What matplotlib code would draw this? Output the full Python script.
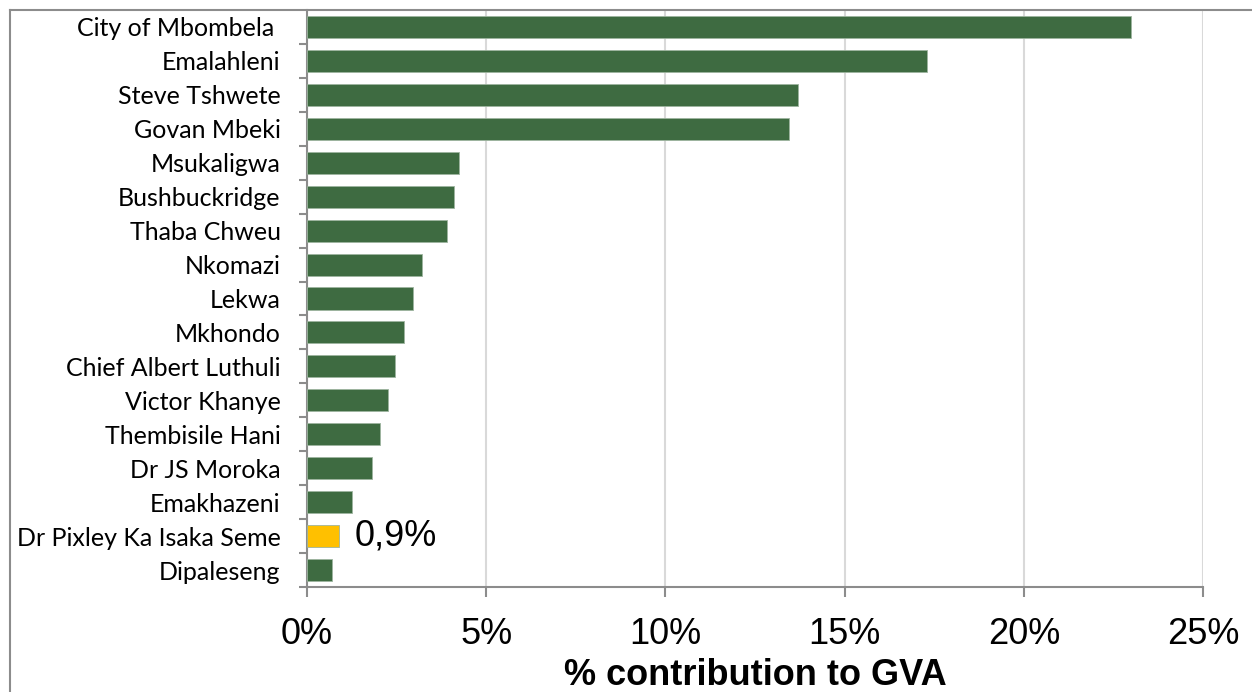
import matplotlib
matplotlib.use("Agg")
import matplotlib.pyplot as plt
from matplotlib.lines import Line2D
from matplotlib.ticker import FuncFormatter, FixedLocator

# share of provincial GVA by local municipality (%)
municipalities = [
    "City of Mbombela ", "Emalahleni", "Steve Tshwete", "Govan Mbeki",
    "Msukaligwa", "Bushbuckridge", "Thaba Chweu", "Nkomazi", "Lekwa",
    "Mkhondo", "Chief Albert Luthuli", "Victor Khanye", "Thembisile Hani",
    "Dr JS Moroka", "Emakhazeni", "Dr Pixley Ka Isaka Seme", "Dipaleseng",
]
gva_share = [
    23.0, 17.3, 13.7, 13.45, 4.25, 4.1, 3.9, 3.2, 2.95,
    2.7, 2.45, 2.25, 2.05, 1.8, 1.25, 0.9, 0.7,
]
highlight = "Dr Pixley Ka Isaka Seme"

GREEN = "#3E6B41"
YELLOW = "#FFC000"
AXIS_GREY = "#8C8C8C"
GRID_GREY = "#D9D9D9"

W, H = 1252, 692
fig = plt.figure(figsize=(W / 100, H / 100), dpi=100)
ax = fig.add_axes([307 / W, 1 - 587 / H, (1203 - 307) / W, (587 - 10) / H])

n = len(municipalities)
ypos = list(range(n))
colors = [YELLOW if m == highlight else GREEN for m in municipalities]
ax.barh(ypos, gva_share, height=0.65, color=colors,
        edgecolor="#9DB59F", linewidth=0.6, zorder=3)

ax.set_ylim(n - 0.5, -0.5)
ax.set_xlim(0, 25)

# category labels, ticks between categories
ax.set_yticks(ypos)
ax.set_yticklabels(municipalities, fontfamily="Lato", fontsize=18)
ax.tick_params(axis="y", which="major", length=0, pad=19)
ax.yaxis.set_minor_locator(FixedLocator([i + 0.5 for i in range(n)]))
ax.tick_params(axis="y", which="minor", length=6, width=1.5,
               color=AXIS_GREY, direction="out")

ax.xaxis.set_major_locator(FixedLocator([0, 5, 10, 15, 20, 25]))
ax.xaxis.set_major_formatter(FuncFormatter(lambda v, _: f"{v:.0f}%"))
ax.tick_params(axis="x", length=7.5, width=1.5, color=AXIS_GREY,
               labelsize=26, pad=14)
for lbl in ax.get_xticklabels():
    lbl.set_fontfamily("Liberation Sans")

ax.grid(axis="x", color=GRID_GREY, linewidth=1.5, zorder=0)
ax.set_axisbelow(True)

for side in ("top", "right"):
    ax.spines[side].set_visible(False)
for side in ("left", "bottom"):
    ax.spines[side].set_color(AXIS_GREY)
    ax.spines[side].set_linewidth(1.5)

ax.set_xlabel("% contribution to GVA", fontfamily="Liberation Sans",
              fontsize=26, fontweight="bold", va="baseline")
ax.xaxis.set_label_coords(0.5, (587 - 685) / 577)

# value label on the highlighted bar
hi = municipalities.index(highlight)
ax.annotate(f"{gva_share[hi]:.1f}%".replace(".", ","),
            xy=(gva_share[hi], hi), xytext=(11, 0),
            textcoords="offset points", va="center", ha="left",
            fontfamily="Liberation Sans", fontsize=26)

# chart-area border (top and left edges)
x0 = 10 / W
y1 = 1 - 10 / H
fig.add_artist(Line2D([x0, 1], [y1, y1], transform=fig.transFigure,
                      color=AXIS_GREY, linewidth=1.5))
fig.add_artist(Line2D([x0, x0], [0, y1], transform=fig.transFigure,
                      color=AXIS_GREY, linewidth=1.5))

fig.savefig("out.png", dpi=100)
